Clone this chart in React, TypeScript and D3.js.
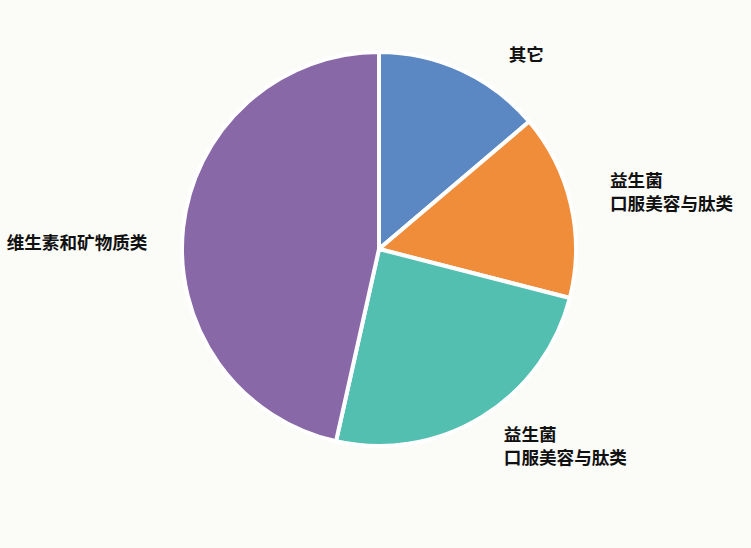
import React, { useRef, useEffect } from "react";
import * as d3 from "d3";

// slice data, clockwise from 12 o'clock
const categories = ["其它", "益生菌\n口服美容与肽类", "益生菌\n口服美容与肽类", "维生素和矿物质类"];
const values = [13.8, 15.2, 24.5, 46.5];
const colors = ["#5b88c2", "#f08d3b", "#53bfb0", "#8868a7"];

// small nudges for the label positions (dx, dy)
const labelNudges: [number, number][] = [
  [31, 19],
  [2, -4],
  [2, -3],
  [2, 20],
];

const W = 751;
const H = 548;

const PieChart = () => {
  const ref = useRef<SVGSVGElement | null>(null);

  useEffect(() => {
    if (!ref.current) return;
    const svg = d3.select(ref.current);
    svg.selectAll("*").remove();

    const cx = 379;
    const cy = 249;
    const radius = 197;
    const labelRadius = 235;

    svg
      .append("rect")
      .attr("width", W)
      .attr("height", H)
      .attr("fill", "#fbfbf7");

    const g = svg.append("g").attr("transform", `translate(${cx},${cy})`);

    const pie = d3
      .pie<number>()
      .sort(null)
      .value((d) => d);
    const arcs = pie(values);

    const arc = d3.arc<d3.PieArcDatum<number>>().innerRadius(0).outerRadius(radius);
    const labelArc = d3
      .arc<d3.PieArcDatum<number>>()
      .innerRadius(labelRadius)
      .outerRadius(labelRadius);

    g.selectAll("path.slice")
      .data(arcs)
      .enter()
      .append("path")
      .attr("class", "slice")
      .attr("d", arc)
      .attr("fill", (_, i) => colors[i])
      .attr("stroke", "#ffffff")
      .attr("stroke-width", 4)
      .attr("stroke-linejoin", "round");

    // each line is its own <text> so the lines don't share one box
    const lineH = 23;
    arcs.forEach((a, i) => {
      const [lx, ly] = labelArc.centroid(a);
      const mid = (a.startAngle + a.endAngle) / 2;
      const anchor = Math.sin(mid) >= 0 ? "start" : "end";
      const lines = categories[i].split("\n");
      const x = lx + labelNudges[i][0];
      const y0 = ly + labelNudges[i][1] - ((lines.length - 1) * lineH) / 2;
      lines.forEach((t, j) => {
        g.append("text")
          .attr("x", x)
          .attr("y", y0 + j * lineH)
          .attr("dy", "0.35em")
          .attr("text-anchor", anchor)
          .attr("font-family", "'Noto Sans CJK SC', 'Noto Sans', sans-serif")
          .attr("font-size", 17.6)
          .attr("font-weight", "bold")
          .attr("fill", "#111111")
          .text(t);
      });
    });
  }, []);

  return <svg ref={ref} width={W} height={H} style={{ display: "block" }} />;
};

export default function App() {
  return (
    <div style={{ position: "fixed", left: 0, top: 0, width: W, height: H, background: "#fbfbf7" }}>
      <PieChart />
    </div>
  );
}
